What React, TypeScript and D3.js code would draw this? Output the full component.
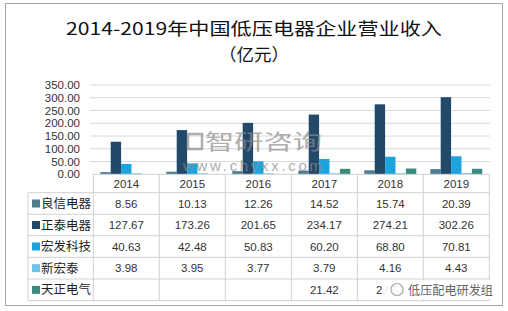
import React from "react";
import * as d3 from "d3";

const years = ["2014", "2015", "2016", "2017", "2018", "2019"];
const seriesNames = ["良信电器", "正泰电器", "宏发科技", "新宏泰", "天正电气"];
const liangxin = [8.56, 10.13, 12.26, 14.52, 15.74, 20.39];
const zhengtai = [127.67, 173.26, 201.65, 234.17, 274.21, 302.26];
const hongfa = [40.63, 42.48, 50.83, 60.2, 68.8, 70.81];
const xinhongtai = [3.98, 3.95, 3.77, 3.79, 4.16, 4.43];
const tianzheng: (number | null)[] = [null, null, null, 21.42, 22.63, 21.6];
const yTicks = [0, 50, 100, 150, 200, 250, 300, 350];
const colors = ["#4e7d90", "#23496a", "#1fa3dd", "#6cc3e6", "#3a8b7d"];

const allSeries = [liangxin, zhengtai, hongfa, xinhongtai, tianzheng];

export default function App() {
  const left = 93.3;
  const right = 489.3;
  const top = 85;
  const bottom = 174.3;
  const x0 = d3.scaleBand<string>().domain(years).range([left, right]);
  const x1 = d3
    .scaleBand<string>()
    .domain(seriesNames)
    .range([7, x0.bandwidth() - 7]);
  const y = d3.scaleLinear().domain([0, 350]).range([bottom, top]);
  const rowLines = [192.7, 214.3, 235.7, 257.3, 279, 300.7];
  const font = "'Liberation Sans', Arial, sans-serif";
  const cjk = "'Noto Sans CJK SC', sans-serif";

  return (
    <svg
      width={508}
      height={311}
      style={{ position: "absolute", left: 0, top: 0, background: "#fff" }}
    >
      <rect x={5.5} y={3.5} width={497} height={302} fill="#fff" stroke="#a6a6a6" />
      <text
        x={254}
        y={35}
        textAnchor="middle"
        fontFamily={cjk}
        fontSize={17}
        textLength={376}
        lengthAdjust="spacingAndGlyphs"
        fill="#111"
      >
        2014-2019年中国低压电器企业营业收入
      </text>
      <text
        x={254}
        y={61}
        textAnchor="middle"
        fontFamily={cjk}
        fontSize={17}
        textLength={70}
        lengthAdjust="spacingAndGlyphs"
        fill="#111"
      >
        （亿元）
      </text>

      {yTicks.map((t) => (
        <g key={t}>
          {t > 0 && (
            <line x1={90} x2={490} y1={y(t)} y2={y(t)} stroke="#d9d9d9" />
          )}
          <text
            x={80}
            y={y(t)}
            dy="0.35em"
            textAnchor="end"
            fontFamily={font}
            fontSize={11.5}
            fill="#333"
          >
            {t.toFixed(2)}
          </text>
        </g>
      ))}

      {years.map((yr, i) => (
        <g key={yr}>
          {allSeries.map((s, j) => {
            const v = s[i];
            if (v == null) return null;
            return (
              <rect
                key={j}
                x={(x0(yr) as number) + (x1(seriesNames[j]) as number)}
                y={y(v)}
                width={x1.bandwidth()}
                height={bottom - y(v)}
                fill={colors[j]}
              />
            );
          })}
        </g>
      ))}

      {/* watermark */}
      <g opacity={0.7} fill="#8c8c8c">
        <rect x={188} y={134} width={14} height={15} fill="none" stroke="#8c8c8c" strokeWidth={2.5} />
        <text
          x={205}
          y={149}
          fontFamily={cjk}
          fontSize={21}
          textLength={117}
          lengthAdjust="spacingAndGlyphs"
        >
          智研咨询
        </text>
        <text
          x={183}
          y={171}
          fontFamily={font}
          fontSize={15}
          textLength={139}
          lengthAdjust="spacing"
        >
          www.chyxx.com
        </text>
      </g>

      {/* table */}
      <line x1={left} x2={right} y1={bottom} y2={bottom} stroke="#d0d0d0" />
      {rowLines.map((ry, i) => (
        <line key={i} x1={28} x2={right} y1={ry} y2={ry} stroke="#d0d0d0" />
      ))}
      <line x1={28} x2={28} y1={rowLines[0]} y2={rowLines[5]} stroke="#d0d0d0" />
      {[...years.map((yr) => x0(yr) as number), right].map((cx, i) => (
        <line key={i} x1={cx} x2={cx} y1={bottom} y2={rowLines[5]} stroke="#d0d0d0" />
      ))}
      {years.map((yr) => (
        <text
          key={yr}
          x={(x0(yr) as number) + x0.bandwidth() / 2}
          y={(bottom + rowLines[0]) / 2}
          dy="0.36em"
          textAnchor="middle"
          fontFamily={font}
          fontSize={11.5}
          fill="#333"
        >
          {yr}
        </text>
      ))}
      {seriesNames.map((name, j) => {
        const cy = (rowLines[j] + rowLines[j + 1]) / 2;
        return (
          <g key={name}>
            <rect x={32} y={cy - 4} width={8} height={8} fill={colors[j]} />
            <text
              x={41}
              y={cy}
              dy="0.36em"
              fontFamily={cjk}
              fontSize={12.5}
              fill="#222"
            >
              {name}
            </text>
            {years.map((yr, i) => {
              const v = allSeries[j][i];
              if (v == null) return null;
              // the 2019 cell of the last row is hidden under the watermark in the reference
              if (j === 4 && i === 5) return null;
              return (
                <text
                  key={yr}
                  x={(x0(yr) as number) + x0.bandwidth() / 2}
                  y={cy}
                  dy="0.36em"
                  textAnchor="middle"
                  fontFamily={font}
                  fontSize={11.5}
                  fill="#333"
                >
                  {v.toFixed(2)}
                </text>
              );
            })}
          </g>
        );
      })}

      {/* bottom-right watermark */}
      <rect x={382} y={280} width={117} height={19} fill="#fff" opacity={0.9} />
      <circle cx={397} cy={289.5} r={6} fill="none" stroke="#aaa" strokeWidth={1.2} />
      <text
        x={408}
        y={290}
        dy="0.36em"
        fontFamily={cjk}
        fontSize={12.5}
        textLength={85}
        lengthAdjust="spacingAndGlyphs"
        fill="#666"
      >
        低压配电研发组
      </text>
    </svg>
  );
}
